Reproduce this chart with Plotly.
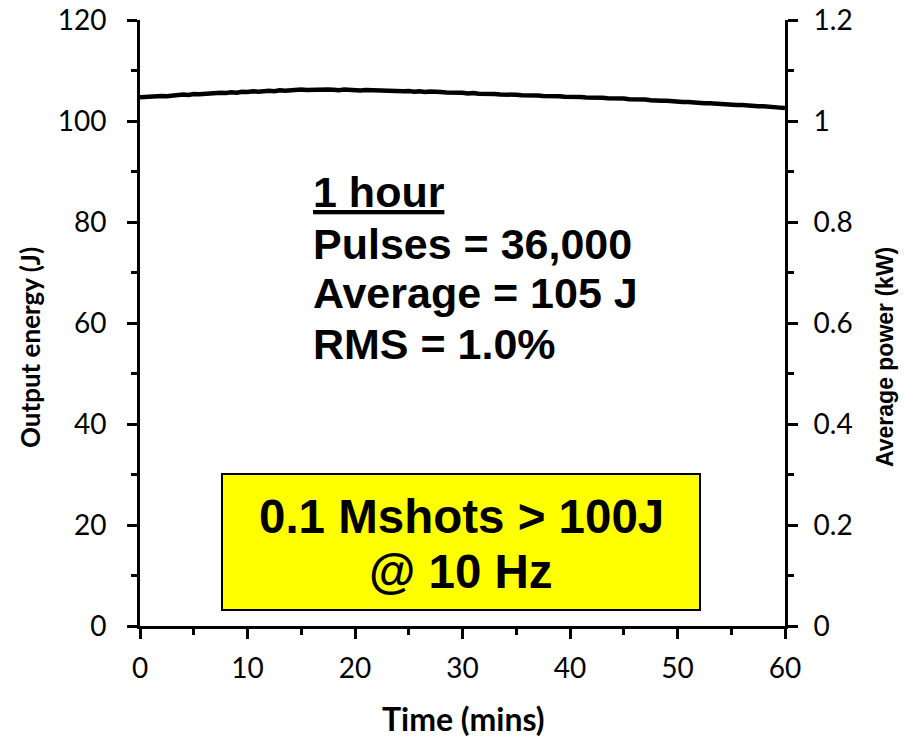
import plotly.graph_objects as go

# Time (mins) and output energy (J) at 0.5-min steps
time_min = [
    0, 0.5, 1, 1.5, 2, 2.5, 3, 3.5, 4, 4.5, 5, 5.5, 6, 6.5, 7, 7.5, 8, 8.5, 9, 9.5,
    10, 10.5, 11, 11.5, 12, 12.5, 13, 13.5, 14, 14.5, 15, 15.5, 16, 16.5, 17, 17.5, 18, 18.5, 19, 19.5,
    20, 20.5, 21, 21.5, 22, 22.5, 23, 23.5, 24, 24.5, 25, 25.5, 26, 26.5, 27, 27.5, 28, 28.5, 29, 29.5,
    30, 30.5, 31, 31.5, 32, 32.5, 33, 33.5, 34, 34.5, 35, 35.5, 36, 36.5, 37, 37.5, 38, 38.5, 39, 39.5,
    40, 40.5, 41, 41.5, 42, 42.5, 43, 43.5, 44, 44.5, 45, 45.5, 46, 46.5, 47, 47.5, 48, 48.5, 49, 49.5,
    50, 50.5, 51, 51.5, 52, 52.5, 53, 53.5, 54, 54.5, 55, 55.5, 56, 56.5, 57, 57.5, 58, 58.5, 59, 59.5,
    60,
]
energy_j = [
    104.7, 104.8, 104.85, 104.8, 104.95, 104.9, 105.05, 105.15, 105.25, 105.15,
    105.35, 105.3, 105.4, 105.5, 105.4, 105.6, 105.55, 105.7, 105.6, 105.8,
    105.75, 105.9, 105.8, 105.95, 106.0, 105.9, 106.1, 106.0, 106.15, 106.1,
    106.25, 106.15, 106.2, 106.3, 106.15, 106.25, 106.2, 106.1, 106.25, 106.15,
    106.2, 106.05, 106.15, 106.1, 106.0, 106.1, 105.95, 106.05, 106.0, 105.9,
    105.95, 105.8, 105.9, 105.75, 105.85, 105.7, 105.75, 105.65, 105.7, 105.55,
    105.6, 105.45, 105.55, 105.4, 105.45, 105.3, 105.35, 105.25, 105.3, 105.15,
    105.2, 105.1, 105.15, 105.0, 105.05, 104.95, 105.0, 104.85, 104.9, 104.8,
    104.85, 104.7, 104.75, 104.65, 104.7, 104.55, 104.6, 104.5, 104.55, 104.4,
    104.45, 104.3, 104.35, 104.2, 104.25, 104.1, 104.15, 104.0, 104.0, 103.85,
    103.9, 103.75, 103.75, 103.6, 103.65, 103.5, 103.5, 103.4, 103.4, 103.25,
    103.3, 103.15, 103.15, 103.0, 103.05, 102.9, 102.9, 102.75, 102.75, 102.65,
    102.55,
]
rep_rate_hz = 10
power_kw = [e * rep_rate_hz / 1000 for e in energy_j]

x_ticks = [0, 10, 20, 30, 40, 50, 60]
y_ticks = [0, 20, 40, 60, 80, 100, 120]
y2_ticks = [0, 0.2, 0.4, 0.6, 0.8, 1.0, 1.2]
y2_labels = ["0", "0.2", "0.4", "0.6", "0.8", "1", "1.2"]

stats_lines = ["<u>1 hour</u>", "Pulses = 36,000", "Average = 105 J", "RMS = 1.0%"]
box_lines = ["0.1 Mshots > 100J", "@ 10 Hz"]

L, R, T, B = 140, 785, 20, 626  # plot area in pixels
def px_to_t(px):
    return (px - L) / (R - L) * 60
def py_to_e(py):
    return (B - py) / (B - T) * 120
def px_to_paper(px):
    return (px - L) / (R - L)
def py_to_paper(py):
    return (B - py) / (B - T)

fig = go.Figure()
fig.add_trace(go.Scatter(x=time_min, y=energy_j, mode="lines",
                         line=dict(color="black", width=4.5), hoverinfo="skip",
                         showlegend=False))
fig.add_trace(go.Scatter(x=time_min, y=power_kw, yaxis="y2", mode="lines",
                         line=dict(color="rgba(0,0,0,0)", width=0), hoverinfo="skip",
                         showlegend=False))

tickfont = dict(family="Lato", size=28, color="black")
common = dict(showline=True, linecolor="black", linewidth=3, ticks="outside",
              ticklen=10, tickwidth=3, tickcolor="black", showgrid=False,
              zeroline=False, tickfont=tickfont, automargin=False)

fig.update_layout(
    width=904, height=739,
    margin=dict(l=L, r=904 - R, t=T, b=739 - B, autoexpand=False),
    paper_bgcolor="white", plot_bgcolor="white",
    xaxis=dict(range=[0, 60], tickvals=x_ticks, ticklabelstandoff=5,
               minor=dict(ticks="outside", dtick=5, ticklen=6, tickwidth=3, tickcolor="black"),
               **common),
    yaxis=dict(range=[0, 120], tickvals=y_ticks, ticklabelstandoff=15,
               minor=dict(ticks="outside", dtick=10, ticklen=6, tickwidth=3, tickcolor="black"),
               **common),
    yaxis2=dict(range=[0, 1.2], overlaying="y", side="right", tickvals=y2_ticks,
                ticktext=y2_labels, ticklabelstandoff=10,
                minor=dict(ticks="outside", dtick=0.1, ticklen=6, tickwidth=3, tickcolor="black"),
                **common),
)

# Axis titles
fig.add_annotation(text="<b>Output energy (J)</b>", xref="paper", yref="paper",
                   x=px_to_paper(30), y=py_to_paper(348), textangle=-90,
                   xanchor="center", yanchor="middle",
                   showarrow=False, font=dict(family="Lato", size=26, color="black"))
fig.add_annotation(text="<b>Average power (kW)</b>", xref="paper", yref="paper",
                   x=px_to_paper(885), y=py_to_paper(357), textangle=-90,
                   xanchor="center", yanchor="middle",
                   showarrow=False, font=dict(family="Liberation Sans", size=23, color="black"))
fig.add_annotation(text="<b>Time (mins)</b>", xref="paper", yref="paper",
                   x=px_to_paper(463), y=py_to_paper(718),
                   xanchor="center", yanchor="middle",
                   showarrow=False, font=dict(family="Lato", size=32, color="black"))

# Stats text block
stat_y = [192, 244, 293, 344]
for txt, py in zip(stats_lines, stat_y):
    fig.add_annotation(text="<b>" + txt + "</b>", x=px_to_t(311), y=py_to_e(py),
                       xanchor="left", yanchor="middle", showarrow=False,
                       font=dict(family="Liberation Sans", size=43, color="black"))

# Yellow box
fig.add_shape(type="rect", x0=px_to_t(222), x1=px_to_t(700), y0=py_to_e(610), y1=py_to_e(474),
              line=dict(color="black", width=2), fillcolor="#FFFF00", layer="above")
box_y = [516, 571]
for txt, py in zip(box_lines, box_y):
    fig.add_annotation(text="<b>" + txt + "</b>", x=px_to_t(461), y=py_to_e(py),
                       xanchor="center", yanchor="middle", showarrow=False,
                       font=dict(family="Liberation Sans", size=47.5, color="black"))

fig.write_html("out.html")
